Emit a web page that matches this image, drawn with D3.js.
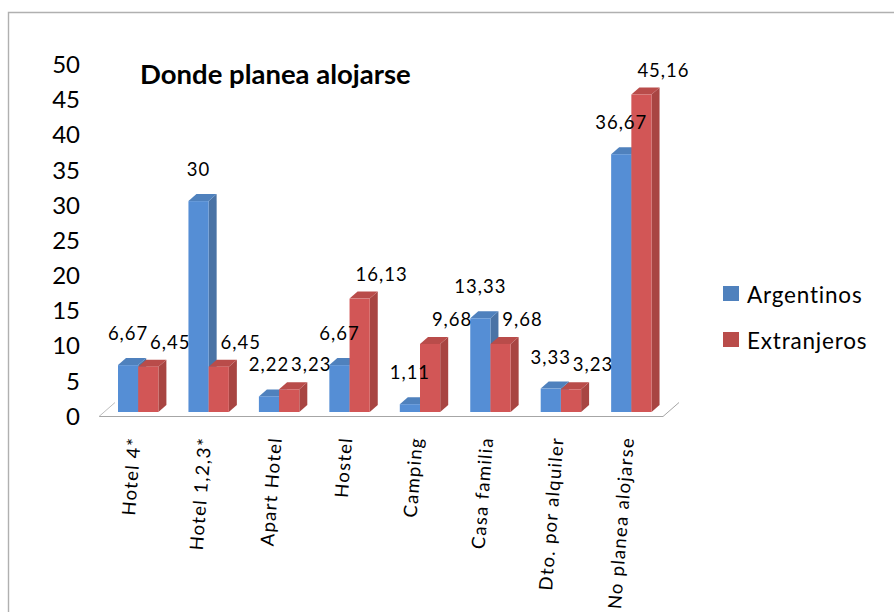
<!DOCTYPE html>
<html><head><meta charset="utf-8">
<script src="https://cdnjs.cloudflare.com/ajax/libs/d3/7.8.5/d3.min.js"></script>
<style>html,body{margin:0;padding:0;background:#fff;overflow:hidden}svg{display:block}text{font-family:Lato,"Open Sans",sans-serif;fill:#000}</style>
</head><body><svg id="c" width="894" height="612"></svg>
<script>
const categories=["Hotel 4*","Hotel 1,2,3*","Apart Hotel","Hostel","Camping","Casa familia","Dto. por alquiler","No planea alojarse"];
const argentinos=[6.67,30,2.22,6.67,1.11,13.33,3.33,36.67];
const extranjeros=[6.45,6.45,3.23,16.13,9.68,9.68,3.23,45.16];
const argentinosLabels=["6,67","30","2,22","6,67","1,11","13,33","3,33","36,67"];
const extranjerosLabels=["6,45","6,45","3,23","16,13","9,68","9,68","3,23","45,16"];
const seriesNames=["Argentinos","Extranjeros"];
const yTicks=[0,5,10,15,20,25,30,35,40,45,50];
const chartTitle="Donde planea alojarse";

const labelShift=[[0,-32],[22,-25]];
const fills=[{f:"#558ed5",t:"#4f81bd",s:"#4a73a5"},{f:"#d25656",t:"#b94c4a",s:"#a84542"}];
const depthX=8,depthY=7;

const svg=d3.select("#c");
const y=d3.scaleLinear().domain([0,50]).range([412,60.5]);
const band=d3.scaleBand().domain(categories).range([118,118+70.45*8]).paddingInner(0).paddingOuter(0);
const barW=20.2;

// frame
svg.append("path").attr("d","M8.5,612V12.5H894").attr("fill","none").attr("stroke","#b0b0b0").attr("stroke-width",1.4);

// floor
svg.append("path").attr("d","M99,416.5H663L679,402.5").attr("fill","none").attr("stroke","#a6a6a6").attr("stroke-width",1);
svg.append("path").attr("d","M99,416.5L115,402.5").attr("fill","none").attr("stroke","#bdbdbd").attr("stroke-width",1);

// axis labels
const yAxis=d3.axisLeft(y).tickValues(yTicks).tickSize(0).tickPadding(0);
const gy=svg.append("g").attr("transform","translate(80,4.5)").call(yAxis);
gy.select(".domain").remove();
gy.selectAll("text").style("font-size","24px").attr("fill","#000").style("font-family","Lato,sans-serif");

// bars
const series=[argentinos,extranjeros];
function bar(g,x,v,c){
  const t=y(v),b=y(0),r=x+barW;
  g.append("path").attr("d",`M${r},${t}l${depthX},${-depthY}V${b-depthY}l${-depthX},${depthY}Z`).attr("fill",c.s);
  g.append("path").attr("d",`M${x},${t}l${depthX},${-depthY}H${r+depthX}l${-depthX},${depthY}Z`).attr("fill",c.t);
  g.append("rect").attr("x",x).attr("y",t).attr("width",barW).attr("height",b-t).attr("fill",c.f);
}
categories.forEach((c,i)=>{
  const g=svg.append("g");
  series.forEach((s,k)=>bar(g,band(c)+k*barW,s[i],fills[k]));
});
// data labels
const labelSets=[argentinosLabels,extranjerosLabels];
categories.forEach((c,i)=>{
  series.forEach((s,k)=>{
    svg.append("text").attr("x",band(c)+k*barW+barW/2+labelShift[k][0]).attr("y",y(s[i])+labelShift[k][1])
      .attr("text-anchor","middle").attr("dominant-baseline","central")
      .style("font-size","18.5px").style("letter-spacing","1px").text(labelSets[k][i]);
  });
});
// category labels
categories.forEach(c=>{
  svg.append("text").attr("transform",`translate(${band(c)+16},437) rotate(-85.6)`)
    .attr("text-anchor","end").attr("dominant-baseline","central")
    .style("font-size","18.5px").style("letter-spacing","1.3px").text(c);
});
// title
svg.append("text").attr("x",140).attr("y",84).style("font-size","27.5px").style("font-weight","700").text(chartTitle);
// legend
seriesNames.forEach((n,k)=>{
  const ly=d3.scalePoint().domain(seriesNames).range([286,332])(n);
  svg.append("rect").attr("x",723).attr("y",ly).attr("width",16).attr("height",15).attr("fill",fills[k].t);
  svg.append("text").attr("x",747).attr("y",ly+8.5).attr("dominant-baseline","central").style("font-size","22.5px").style("letter-spacing","0.8px").text(n);
});
</script></body></html>
